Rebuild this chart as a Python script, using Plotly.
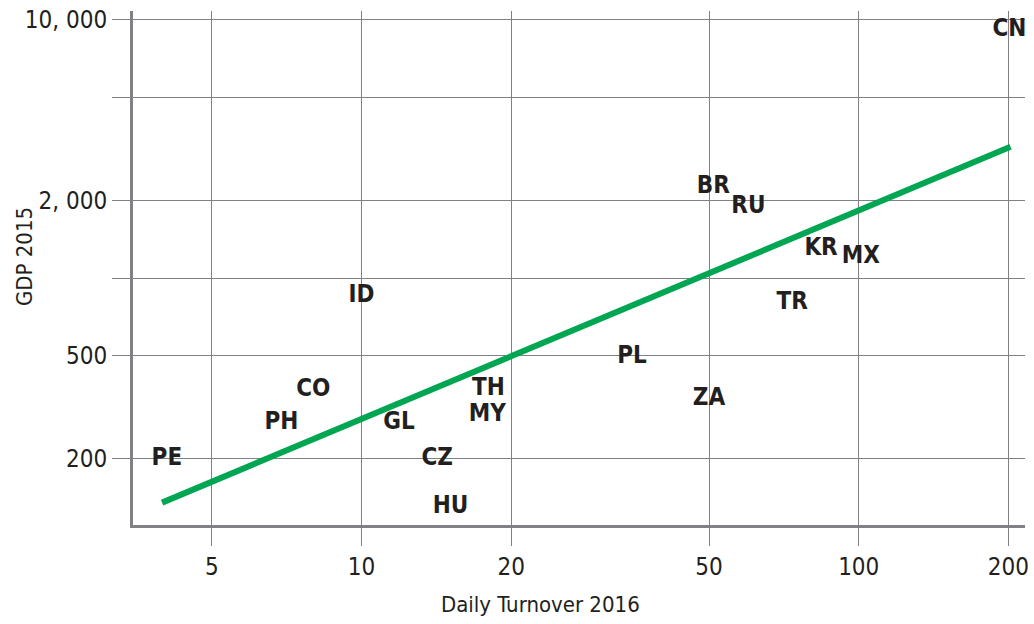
import plotly.graph_objects as go
import math

codes = ['PE', 'PH', 'CO', 'ID', 'GL', 'CZ', 'HU', 'TH', 'MY', 'PL', 'ZA',
         'BR', 'RU', 'KR', 'MX', 'TR', 'CN']
turnover = [4.06, 6.9, 8.0, 10.0, 11.9, 14.2, 15.1, 18.0, 17.9, 35.0, 50.0,
            51.0, 60.0, 84.0, 101.0, 73.5, 201.0]
gdp = [200, 275, 370, 850, 274, 200, 130, 372, 296, 495, 340,
       2250, 1885, 1300, 1205, 800, 9130]

trend_x = [3.97, 202]
trend_y = [135, 3220]

x_ticks = [5, 10, 20, 50, 100, 200]
x_labels = ['5', '10', '20', '50', '100', '200']
y_ticks = [200, 500, 1000, 2000, 5000, 10000]
y_labels = ['200', '500', '', '2, 000', '', '10, 000']

grey = '#808184'
ink = '#231f20'
font = 'DejaVu Sans Condensed, Liberation Sans Narrow, Arial Narrow, sans-serif'

fig = go.Figure()

fig.add_trace(go.Scatter(
    x=trend_x, y=trend_y, mode='lines',
    line=dict(color='#00a651', width=6),
    hoverinfo='skip'
))

fig.add_trace(go.Scatter(
    x=turnover, y=gdp, text=codes, mode='text',
    textposition='middle center',
    textfont=dict(family=font, size=24, color=ink, weight='bold'),
    cliponaxis=False
))

axis_common = dict(
    type='log',
    showgrid=True, gridcolor=grey, gridwidth=1,
    showline=True, linecolor=grey, linewidth=3,
    ticks='outside', ticklen=18, tickcolor=grey, tickwidth=1,
    zeroline=False, automargin=False, ticklabeloverflow='allow',
    tickfont=dict(family=font, size=24, color=ink),
)

fig.update_xaxes(range=[math.log10(3.47), math.log10(216)],
                 tickvals=x_ticks, ticktext=x_labels, **axis_common)
fig.update_yaxes(range=[math.log10(110.6), math.log10(10810)],
                 tickvals=y_ticks, ticktext=y_labels, **axis_common)

fig.add_annotation(text='Daily Turnover 2016', xref='paper', yref='paper',
                   x=0.4563, y=-0.1537, xanchor='center', yanchor='middle',
                   showarrow=False, font=dict(family=font, size=22, color=ink))
fig.add_annotation(text='GDP 2015', xref='paper', yref='paper',
                   x=-0.1222, y=0.5233, xanchor='center', yanchor='middle',
                   textangle=-90, showarrow=False,
                   font=dict(family=font, size=22, color=ink))

fig.update_layout(
    width=1034, height=624,
    margin=dict(l=133, r=9, t=11, b=99),
    plot_bgcolor='white', paper_bgcolor='white',
    showlegend=False,
)

# drop the default body margin so the figure fills the window exactly
fig.write_html('out.html', config={'displayModeBar': False},
               post_script="document.body.style.margin='0';")
